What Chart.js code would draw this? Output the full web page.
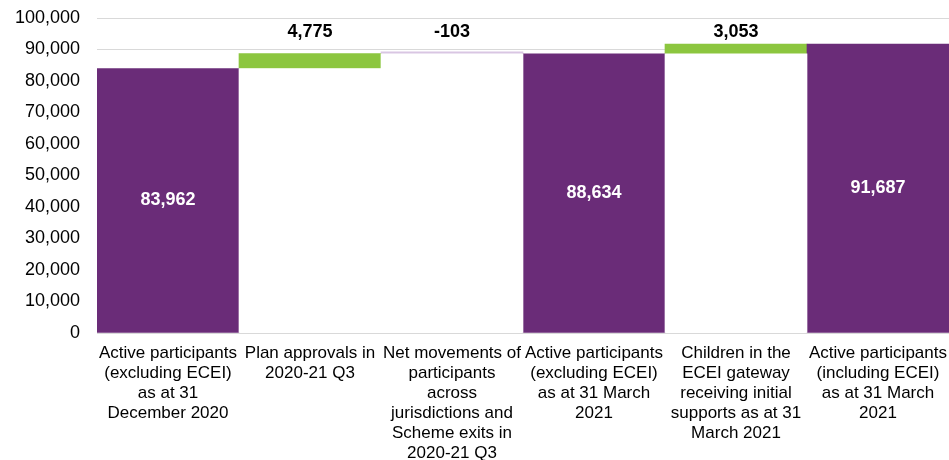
<!DOCTYPE html>
<html>
<head>
<meta charset="utf-8">
<script src="https://cdn.jsdelivr.net/npm/chart.js@4/dist/chart.umd.min.js"></script>
<style>
  body { margin: 0; background: #fff; }
</style>
</head>
<body>
<canvas id="waterfall" width="949" height="460"></canvas>
<script>
// categories (x axis, multi-line)
const categories = [
  ["Active participants", "(excluding ECEI)", "as at 31", "December 2020"],
  ["Plan approvals in", "2020-21 Q3"],
  ["Net movements of", "participants", "across", "jurisdictions and", "Scheme exits in", "2020-21 Q3"],
  ["Active participants", "(excluding ECEI)", "as at 31 March", "2021"],
  ["Children in the", "ECEI gateway", "receiving initial", "supports as at 31", "March 2021"],
  ["Active participants", "(including ECEI)", "as at 31 March", "2021"]
];

// series values
const totals    = [83962, null, null, 88634, null, 91687];
const increases = [null, 4775, null, null, 3053, null];
const decreases = [null, null, 103, null, null, null];

// y axis ticks
const yMin = 0, yMax = 100000, yStep = 10000;

// invisible base for the floating steps (running total before each change)
const base = [];
let running = 0;
categories.forEach((c, i) => {
  if (totals[i] != null) { running = totals[i]; base.push(null); return; }
  if (increases[i] != null) { base.push(running); running += increases[i]; return; }
  running -= decreases[i];
  base.push(running);
});

const PURPLE = "#6a2c78";
const GREEN = "#8cc63f";
const LILAC = "#d9c6e3";
const FONT = "'Liberation Sans', Arial, sans-serif";
const LABEL_LEVEL = 95500; // where the change labels sit

const fmt = (v) => v.toLocaleString("en-US");

const labelsPlugin = {
  id: "barLabels",
  afterDatasetsDraw(chart) {
    const ctx = chart.ctx;
    const yScale = chart.scales.y;
    ctx.save();
    ctx.textAlign = "center";
    ctx.textBaseline = "middle";
    ctx.font = "bold 18px " + FONT;
    // totals: white, centred in the bar
    chart.getDatasetMeta(1).data.forEach((bar, i) => {
      if (totals[i] == null) return;
      ctx.fillStyle = "#fff";
      ctx.fillText(fmt(totals[i]), bar.x, (bar.y + bar.base) / 2);
    });
    // changes: black, above
    const yLab = yScale.getPixelForValue(LABEL_LEVEL);
    chart.getDatasetMeta(2).data.forEach((bar, i) => {
      if (increases[i] == null) return;
      ctx.fillStyle = "#000";
      ctx.fillText(fmt(increases[i]), bar.x, yLab);
    });
    chart.getDatasetMeta(3).data.forEach((bar, i) => {
      if (decreases[i] == null) return;
      ctx.fillStyle = "#000";
      ctx.fillText("-" + fmt(decreases[i]), bar.x, yLab);
    });
    ctx.restore();
  }
};

new Chart(document.getElementById("waterfall").getContext("2d"), {
  type: "bar",
  data: {
    labels: categories,
    datasets: [
      { label: "base", data: base, backgroundColor: "#ffffff" },
      { label: "total", data: totals, backgroundColor: PURPLE },
      { label: "increase", data: increases, backgroundColor: GREEN },
      { label: "decrease", data: decreases, backgroundColor: LILAC, minBarLength: 2 }
    ]
  },
  options: {
    responsive: false,
    animation: false,
    barPercentage: 1,
    categoryPercentage: 1,
    layout: { padding: { top: 18, right: 0, left: 0, bottom: 0 } },
    plugins: {
      legend: { display: false },
      tooltip: { enabled: false }
    },
    scales: {
      x: {
        stacked: true,
        grid: { display: false, drawTicks: false },
        border: { display: true, color: "#d9d9d9", width: 1 },
        ticks: {
          autoSkip: false,
          maxRotation: 0,
          padding: 10,
          color: "#000",
          font: { family: FONT, size: 17, lineHeight: 1.18 }
        },
        afterFit(scale) {
          scale.height = 127;
          scale.paddingLeft = 0;
          scale.paddingRight = 0;
        }
      },
      y: {
        stacked: true,
        min: yMin,
        max: yMax,
        grid: { color: "#d9d9d9", drawTicks: false },
        border: { display: false },
        ticks: {
          stepSize: yStep,
          padding: 17,
          color: "#000",
          font: { family: FONT, size: 18 },
          callback: (v) => fmt(v)
        },
        afterFit(scale) {
          scale.width = 97;
          scale.paddingTop = 0;
          scale.paddingBottom = 0;
        }
      }
    }
  },
  plugins: [labelsPlugin]
});
</script>
</body>
</html>
